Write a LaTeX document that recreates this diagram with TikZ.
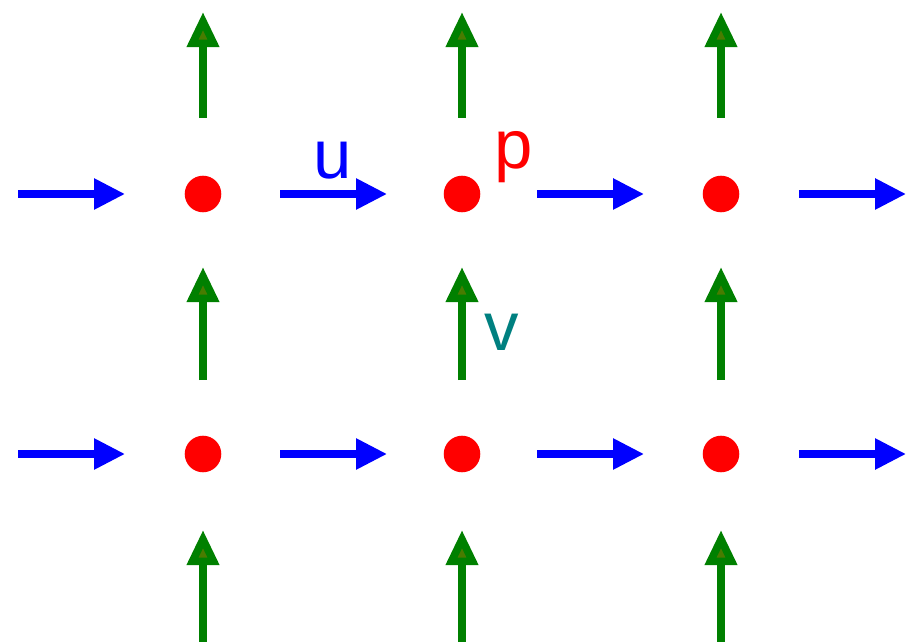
\documentclass[tikz,border=0pt]{standalone}
\usepackage{fontspec}
\setsansfont{Liberation Sans}
\usetikzlibrary{arrows.meta}
\definecolor{ublue}{RGB}{0,0,255}
\definecolor{vgreen}{RGB}{0,128,0}
\definecolor{vhead}{RGB}{72,124,0}
\definecolor{vteal}{RGB}{0,128,128}

\begin{document}
\begin{tikzpicture}[x=0.025cm, y=-0.025cm,
  uarrow/.style={draw=ublue, line width=5pt, -{Triangle[length=22pt, width=21pt, fill=ublue]}},
  varrow/.style={draw=vgreen, line width=5.4pt, -{Triangle[length=25pt, width=22pt, fill=vhead]}},
  pdot/.style={circle, fill=red, inner sep=0pt, minimum size=26pt},
  lbl/.style={font=\sffamily\fontsize{49}{56}\selectfont, anchor=base, inner sep=0pt}]
  \useasboundingbox (0,0) rectangle (913,642);
  % pressure points
  \foreach \x [count=\i] in {203,462,721} {
    \foreach \y [count=\j] in {194,454} {
      \node [pdot] (p\i\j) at (\x,\y) {};
    }
  }
  % horizontal velocity u
  \foreach \x [count=\i] in {18,280,537,799} {
    \foreach \y [count=\j] in {194,454} {
      \coordinate (u\i\j s) at (\x,\y);
      \coordinate (u\i\j e) at (\x+107,\y);
      \draw [uarrow] (u\i\j s) -- (u\i\j e);
    }
  }
  % vertical velocity v
  \foreach \x [count=\i] in {203,462,721} {
    \foreach \y/\e [count=\j] in {118/12,380/267,642/530} {
      \coordinate (v\i\j s) at (\x,\y);
      \coordinate (v\i\j e) at (\x,\e);
      \draw [varrow] (v\i\j s) -- (v\i\j e);
    }
  }
  \node [lbl, text=ublue] (ulbl) at (333,179) {u};
  \node [lbl, text=red] (plbl) at (514,169) {p};
  \node [lbl, text=vteal] (vlbl) at (502,351) {v};
\end{tikzpicture}
\end{document}
